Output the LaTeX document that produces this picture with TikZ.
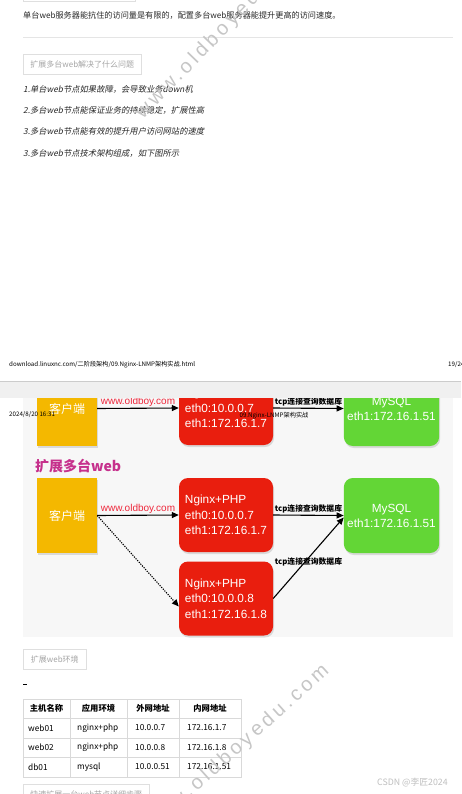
\documentclass[tikz,border=0pt]{standalone}
\usepackage{fontspec}
\setmainfont{Noto Sans CJK SC}
\newfontfamily\hel{Liberation Sans}
\newfontfamily\slant{Noto Sans CJK SC}[FakeSlant=0.2]
\newfontfamily\wmfont{Liberation Sans}[LetterSpace=18]
\usetikzlibrary{arrows.meta,shadows}
\definecolor{cliyel}{RGB}{244,184,0}
\definecolor{webred}{RGB}{233,30,14}
\definecolor{dbgreen}{RGB}{99,214,54}
\definecolor{urlred}{RGB}{238,40,60}
\definecolor{titlepink}{RGB}{198,48,140}
\definecolor{pagebg}{RGB}{247,247,247}
\definecolor{hint}{RGB}{165,165,165}
\definecolor{ink}{RGB}{40,40,40}

\begin{document}
\begin{tikzpicture}[x=1pt,y=-1pt,
    shadowed/.style={drop shadow={opacity=.25,shadow xshift=1pt,shadow yshift=-2pt}},
    client/.style={rectangle,fill=cliyel,minimum width=60pt,minimum height=75pt,text=white,font=\fontsize{12}{14}\selectfont,shadowed},
    web/.style={rectangle,rounded corners=9pt,fill=webred,minimum width=94pt,minimum height=74pt,text=white,align=left,font=\hel\fontsize{11.8}{15.5}\selectfont,shadowed},
    db/.style={rectangle,rounded corners=9pt,fill=dbgreen,minimum width=93pt,minimum height=75pt,text=white,align=center,font=\hel\fontsize{11.8}{15}\selectfont,shadowed},
    arrow/.style={-{Triangle[length=7pt,width=6pt]},line width=1.1pt},
    dots/.style={arrow,dash pattern=on 1.2pt off 1.2pt},
    url/.style={text=urlred,font=\hel\fontsize{10}{11}\selectfont,inner sep=1.5pt},
    link/.style={font=\bfseries\fontsize{7.8}{9}\selectfont,inner sep=1.5pt},
    tagbox/.style={rectangle,draw=gray!25,line width=.7pt,text=hint,anchor=north west,minimum height=20pt,font=\fontsize{8}{9}\selectfont},
    item/.style={anchor=west,text=ink,font=\slant\fontsize{8.3}{10}\selectfont,inner sep=0pt},
    tiny/.style={font=\fontsize{6.2}{7}\selectfont,inner sep=0pt},
    cell/.style={anchor=west,font=\fontsize{8.3}{9}\selectfont,inner sep=0pt},
    head/.style={font=\bfseries\fontsize{8.3}{9}\selectfont,inner sep=0pt},
    wmark/.style={text=gray!45,font=\wmfont\fontsize{20}{20}\selectfont,inner sep=0pt}]
    \useasboundingbox (0,0) rectangle (461,794);
    \fill[white] (0,0) rectangle (461,794);
    % upper text block
    \draw[gray!25,line width=.7pt] (23,-5) -- (23,1) -- (135,1) -- (135,-5);
    \node[anchor=west,inner sep=0pt,text=ink,font=\fontsize{8.15}{10}\selectfont] (intro) at (23,15) {单台web服务器能抗住的访问量是有限的，配置多台web服务器能提升更高的访问速度。};
    \draw[gray!20,line width=.7pt] (23,37) -- (453,37);
    \node[tagbox,minimum width=118pt] (why) at (23,54) {扩展多台web解决了什么问题};
    \node[item] (i1) at (23,89) {1.单台web节点如果故障，会导致业务down机};
    \node[item] (i2) at (23,110) {2.多台web节点能保证业务的持续稳定，扩展性高};
    \node[item] (i3) at (23,131) {3.多台web节点能有效的提升用户访问网站的速度};
    \node[item] (i4) at (23,153) {3.多台web节点技术架构组成，如下图所示};
    % page footer and break
    \node[tiny,anchor=west] (url) at (9,365) {download.linuxnc.com/二阶段架构/09.Nginx-LNMP架构实战.html};
    \node[tiny,anchor=west] (pg) at (448,365) {19/24};
    \fill[gray!12] (0,381) rectangle (461,398);
    \draw[gray!40,line width=1pt] (0,381.5) -- (461,381.5);
    \fill[pagebg] (23,398) rectangle (453,637);
    % single web (cut by page break)
    \begin{scope}
    \clip (0,398) rectangle (461,455);
    \node[client] (c0) at (67,408.5) {客户端};
    \node[web] (w0) at (226,408) {Nginx+PHP\\eth0:10.0.0.7\\eth1:172.16.1.7};
    \node[db] (d0) at (391.5,408.5) {MySQL\\eth1:172.16.1.51};
    \draw[arrow] (c0.east) -- (w0.west) node[url,midway,above] {www.oldboy.com};
    \draw[arrow] (w0.east) -- (d0.west) node[link,midway,above] {tcp连接查询数据库};
    \end{scope}
    \node[tiny,anchor=west] (date) at (9,415) {2024/8/20 16:31};
    \node[tiny] (ttl) at (274,416) {09.Nginx-LNMP架构实战};
    % multi web
    \node[anchor=west,inner sep=0pt,text=titlepink,font=\bfseries\fontsize{14}{16}\selectfont] (multi) at (35,466) {扩展多台web};
    \node[client] (c) at (67,515.5) {客户端};
    \node[web] (w1) at (226,515) {Nginx+PHP\\eth0:10.0.0.7\\eth1:172.16.1.7};
    \node[web] (w2) at (226,598.5) {Nginx+PHP\\eth0:10.0.0.8\\eth1:172.16.1.8};
    \node[db] (d) at (391.5,515.5) {MySQL\\eth1:172.16.1.51};
    \draw[arrow] (c.east) -- (w1.west) node[url,midway,above] {www.oldboy.com};
    \draw[dots] (c.east) -- ([yshift=-8pt]w2.west);
    \draw[arrow] (w1.east) -- (d.west) node[link,midway,above] {tcp连接查询数据库};
    \draw[arrow] (w2.east) -- ([yshift=-2pt]d.west) node[link,midway,yshift=-4pt] {tcp连接查询数据库};
    % table
    \node[tagbox,minimum width=63pt] (env) at (23,649) {扩展web环境};
    \draw[line width=.8pt] (23,684) -- (27,684);
    \draw[gray!30,line width=.7pt] (23,699) rectangle (241,777);
    \foreach \y in {718.5,738,757.5} \draw[gray!30,line width=.7pt] (23,\y) -- (241,\y);
    \foreach \x in {70,127,179} \draw[gray!30,line width=.7pt] (\x,699) -- (\x,777);
    \node[head] (h1) at (46.5,708.5) {主机名称};
    \node[head] (h2) at (98.5,708.5) {应用环境};
    \node[head] (h3) at (153,708.5) {外网地址};
    \node[head] (h4) at (210,708.5) {内网地址};
    \foreach \n/\b/\c/\d [count=\i] in {web01/nginx+php/10.0.0.7/172.16.1.7,web02/nginx+php/10.0.0.8/172.16.1.8,db01/mysql/10.0.0.51/172.16.1.51}{
      \node[cell] (r\i a) at (28,708.5+19.5*\i) {\n};
      \node[cell] (r\i b) at (77,708.5+19.5*\i) {\b};
      \node[cell] (r\i c) at (135,708.5+19.5*\i) {\c};
      \node[cell] (r\i d) at (187,708.5+19.5*\i) {\d};
    }
    \node[tagbox,minimum width=126pt] (next) at (23,784) {快速扩展一台web节点详细步骤};
    \node[anchor=west,inner sep=0pt,text=gray!50,font=\fontsize{8.8}{10}\selectfont] (csdn) at (377,783) {CSDN @李匠2024};
    % watermarks
    \node[wmark,rotate=46,anchor=base west] (wm1) at (143,120) {www.oldboyedu.com};
    \node[wmark,rotate=42,anchor=base east] (wm2) at (330,672) {www.oldboyedu.com};
\end{tikzpicture}
\end{document}
